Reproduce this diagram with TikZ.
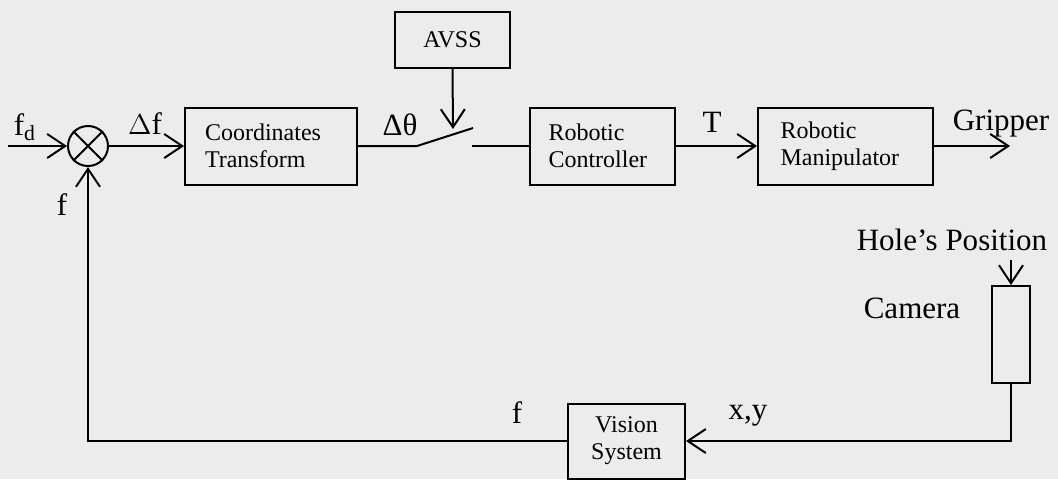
\documentclass[tikz,border=0pt]{standalone}
\usepackage{fontspec}
\setmainfont{Liberation Serif}
\usepackage{tikz}
\usetikzlibrary{arrows.meta,positioning,calc}
\definecolor{paper}{RGB}{236,236,236}
\tikzset{
  blockbox/.style={rectangle, draw=black, line width=1pt, fill=none,
                   align=left, inner xsep=0pt, font=\fontsize{12}{13.5}\selectfont},
  sumnode/.style={circle, draw=black, line width=1pt, inner sep=0pt,
                  minimum size=20pt},
  signal/.style={font=\fontsize{15.5}{18}\selectfont, inner sep=0pt},
  wire/.style={line width=1pt},
  arrow/.style={-{Straight Barb[length=9pt,width=12pt]}, line width=1pt},
}
\begin{document}
\begin{tikzpicture}[
    x=0.5pt,
    y=-0.5pt,
  ]
    % background sheet, fixes the margins
    \fill[paper] (0,0) rectangle (1058,479);
    \useasboundingbox (0,0) rectangle (1058,479);

    % Row 0 (top): forward path
    \node[sumnode]   (sum)   at (88,146) {};
    \draw[wire] (sum.45) -- (sum.225) (sum.135) -- (sum.315);
    \node[blockbox, minimum width=86pt, minimum height=38.5pt, text width=66pt, inner xsep=10pt]
                     (coord) at (271,146) {Coordinates\\Transform};
    \node[blockbox, minimum width=57.5pt, minimum height=28pt, align=center]
                     (avss)  at (452.5,40) {AVSS};
    \node[blockbox, minimum width=72.5pt, minimum height=38.5pt, text width=54pt, inner xsep=9pt]
                     (ctrl)  at (602.5,146) {Robotic\\Controller};
    \node[blockbox, minimum width=87.5pt, minimum height=38.5pt, text width=65pt, inner xsep=11pt]
                     (manip) at (845.5,146) {Robotic\\Manipulator};

    % Row 1 (bottom): camera and vision feedback
    \node[blockbox, minimum width=19pt, minimum height=48.5pt] (camera) at (1011,334.5) {};
    \node[blockbox, minimum width=58.5pt, minimum height=37.5pt, align=center]
                     (vision) at (626.5,441) {Vision\\System};

    % free ends and switch contacts
    \coordinate (fdin)    at (8,146);
    \coordinate (swleft)  at (417,146);
    \coordinate (swarm)   at (473,128);
    \coordinate (swright) at (472,146);
    \coordinate (swtip)   at (453,129);
    \coordinate (gripout) at (1010,146);
    \coordinate (holein)  at (1011,260);

    % signal labels
    \node[signal] (fdlab)   at (25,127)   {f\textsubscript{d}};
    \node[signal] (dflab)   at (145,124)  {$\Delta$f};
    \node[signal] (fblab)   at (62,205)   {f};
    \node[signal] (dthlab)  at (400,125)  {Δθ};
    \node[signal] (tlab)    at (712,122)  {T};
    \node[signal] (griplab) at (1001,124) {Gripper};
    \node[signal] (holelab) at (952,240)  {Hole’s Position};
    \node[signal] (camlab)  at (912,308)  {Camera};
    \node[signal] (xylab)   at (748,416)  {x,y};
    \node[signal] (flab)    at (517,413)  {f};

    % Arrows -- forward path
    \draw[arrow] (fdin) -- (sum.west);
    \draw[arrow] (sum.east) -- (coord.west);
    \draw[wire]  (coord.east) -- (swleft) -- (swarm);
    \draw[wire]  (swright) -- (ctrl.west);
    \draw[arrow] (avss.south) -- (swtip);
    \draw[arrow] (ctrl.east) -- (manip.west);
    \draw[arrow] (manip.east) -- (gripout);

    % Arrows -- feedback path
    \draw[arrow] (holein) -- (camera.north);
    \draw[arrow] (camera.south) |- (vision.east);
    \draw[arrow] (vision.west) -| (sum.south);

  \end{tikzpicture}
\end{document}
